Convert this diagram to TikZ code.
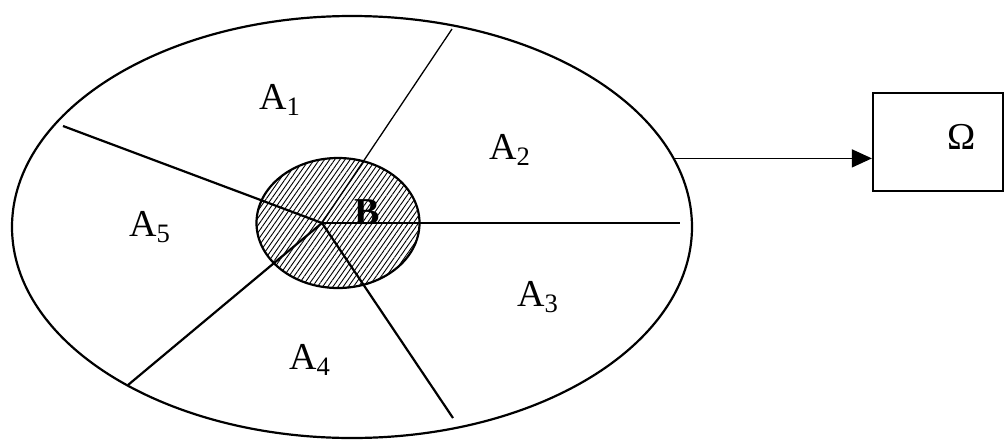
\documentclass[tikz,border=0pt]{standalone}
\usepackage{fontspec}
\setmainfont{Liberation Serif}
\usetikzlibrary{arrows.meta,shapes.geometric,patterns.meta}
\tikzset{region/.style={draw,ellipse,inner sep=0pt,line width=1.1pt},part/.style={font=\fontsize{19}{22}\selectfont,inner sep=0pt},cut/.style={line width=1.1pt},arr/.style={-{Triangle[length=10pt,width=9pt]},line width=0.7pt},space/.style={draw,line width=1.1pt,minimum width=65pt,minimum height=49pt,inner sep=0pt}}

\begin{document}
\begin{tikzpicture}[x=0.5pt,y=-0.5pt]
\useasboundingbox (0,0) rectangle (1008,440);
\node[region,minimum width=340pt,minimum height=211pt] (whole) at (352,227) {};
\node[region,pattern={Lines[angle=55,distance=2.1pt,line width=0.45pt]},minimum width=81.5pt,minimum height=65pt] (B) at (338,223) {};
\coordinate (hub) at (322,223);\coordinate (p1) at (452,29);\coordinate (p2) at (680,223);\coordinate (p3) at (453,418);\coordinate (p4) at (128,385);\coordinate (p5) at (63,126);
\draw[line width=0.65pt] (hub) -- (p1);\draw[cut] (hub) -- (p2);\draw[cut] (hub) -- (p3);\draw[cut] (hub) -- (p4);\draw[cut] (hub) -- (p5);
\node[part] (a1) at (280,100) {A\textsubscript{1}};\node[part] (a2) at (510,150) {A\textsubscript{2}};\node[part] (a3) at (538,297) {A\textsubscript{3}};\node[part] (a4) at (310,360) {A\textsubscript{4}};\node[part] (a5) at (150,227) {A\textsubscript{5}};
\node[part,font=\fontsize{19}{22}\selectfont\bfseries] (b) at (367,212) {B};
\node[space] (omega) at (938,142) {};\node[part] (om) at (962,137) {Ω};
\draw[arr] (whole.12) -- (whole.12 -| omega.west);
\end{tikzpicture}
\end{document}
